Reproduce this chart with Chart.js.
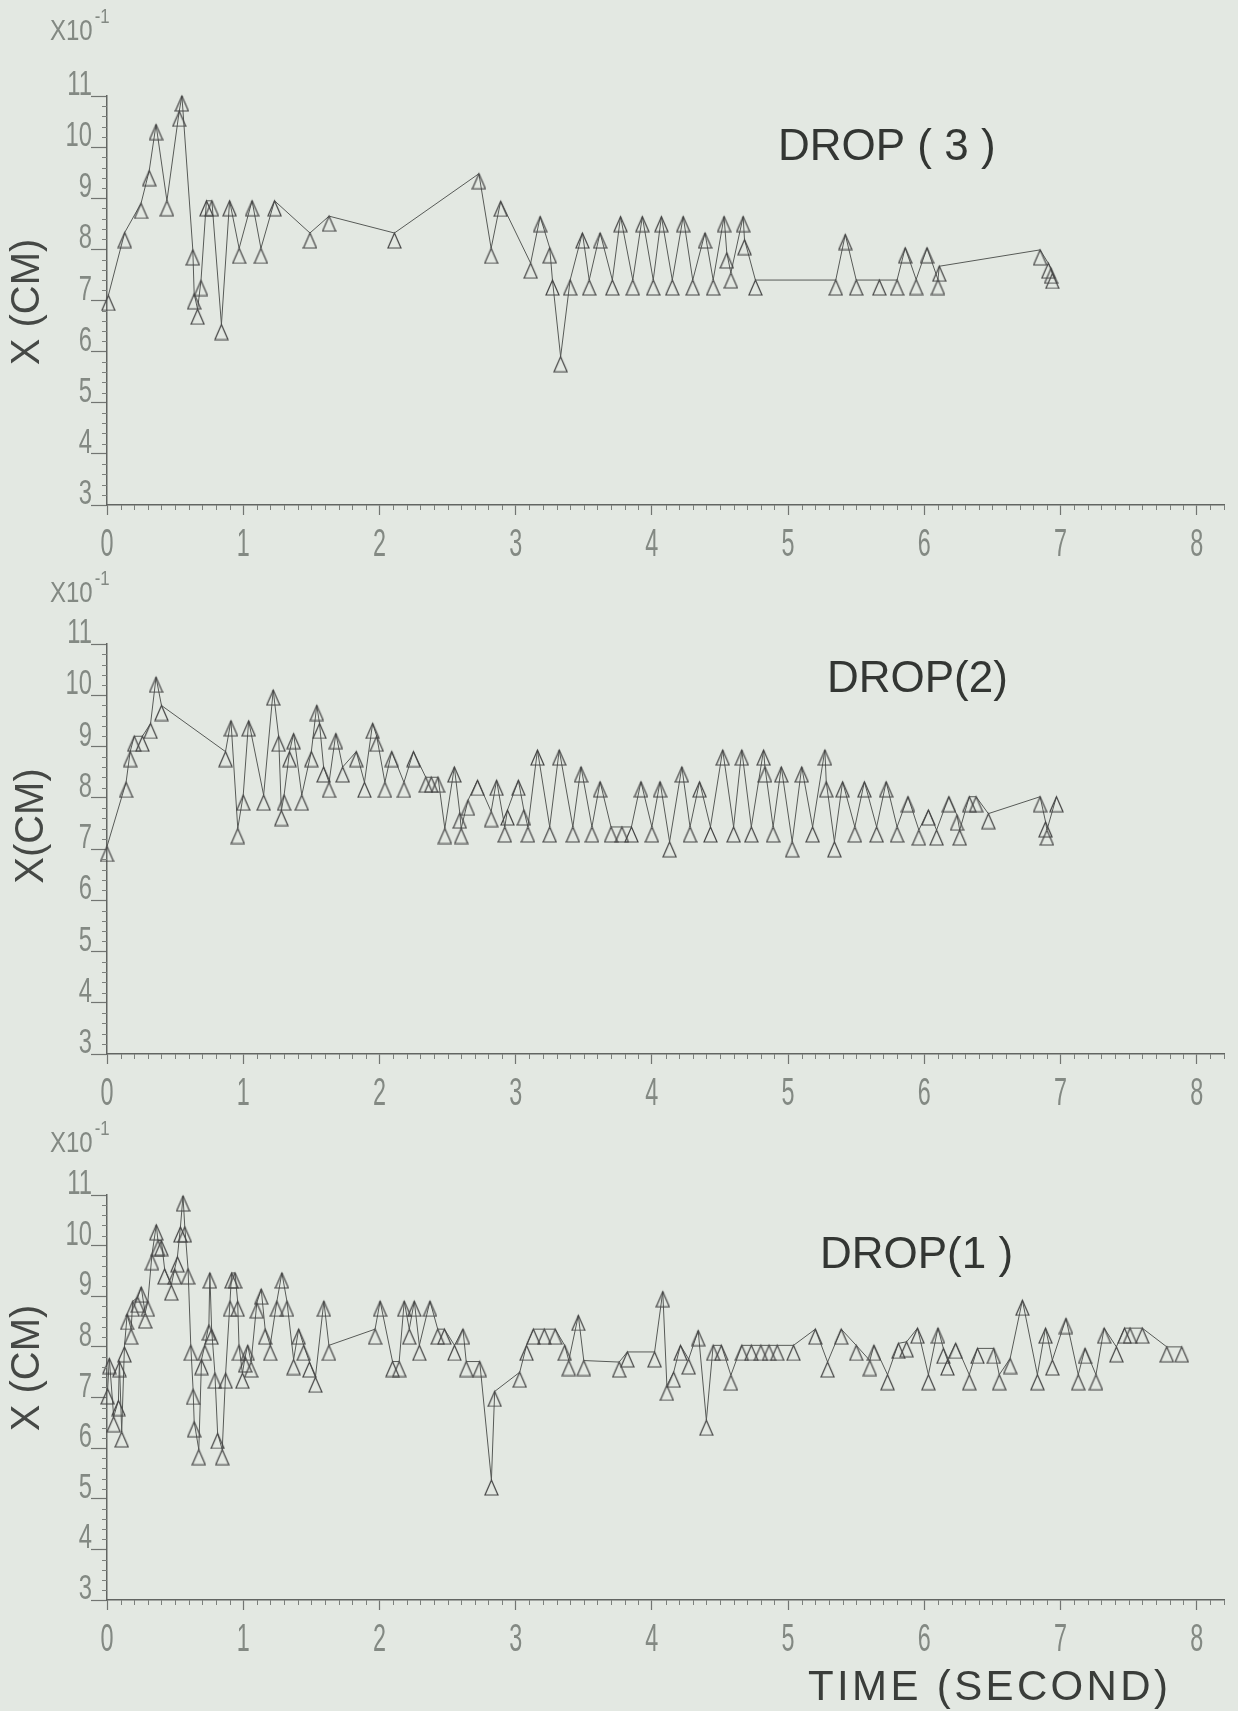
<!DOCTYPE html>
<html>
<head>
<meta charset="utf-8">
<script src="https://cdn.jsdelivr.net/npm/chart.js@4.4.1/dist/chart.umd.min.js"></script>
<style>
  html, body { margin: 0; padding: 0; background: #e3e8e2; }
  #page { position: relative; width: 1238px; height: 1711px; overflow: hidden; background: #e3e8e2; }
  canvas { position: absolute; left: 0; }
</style>
</head>
<body>
<div id="page">
  <canvas id="drop3" width="1238" height="560" style="top:0px"></canvas>
  <canvas id="drop2" width="1238" height="560" style="top:560px"></canvas>
  <canvas id="drop1" width="1238" height="591" style="top:1120px"></canvas>
</div>
<script>
// tiempo en segundos, X en unidades de 10^-1 cm
const xTickLabels = ['0', '1', '2', '3', '4', '5', '6', '7', '8'];
const yTickLabels = ['3', '4', '5', '6', '7', '8', '9', '10', '11'];

// DROP (3)
const time3 = [0.01, 0.13, 0.25, 0.31, 0.36, 0.44, 0.53, 0.55, 0.63, 0.64, 0.665, 0.69, 0.73, 0.77, 0.84, 0.90, 0.97, 1.065, 1.13, 1.23,
  1.49, 1.63, 2.11, 2.73, 2.82, 2.89, 3.11, 3.18, 3.25, 3.27, 3.33, 3.40, 3.49, 3.54, 3.62, 3.71, 3.77, 3.86, 3.93, 4.01,
  4.07, 4.15, 4.23, 4.30, 4.39, 4.45, 4.53, 4.55, 4.58, 4.67, 4.68, 4.76, 5.35, 5.42, 5.50, 5.67, 5.80, 5.86, 5.94, 6.02,
  6.10, 6.11, 6.85, 6.91, 6.93, 6.94];
const x3 = [7.1, 8.33, 8.9, 9.54, 10.44, 8.95, 10.7, 11.0, 7.99, 7.13, 6.83, 7.39, 8.95, 8.95, 6.53, 8.95, 8.02, 8.95, 8.02, 8.95,
  8.32, 8.65, 8.32, 9.48, 8.02, 8.94, 7.73, 8.64, 8.03, 7.40, 5.90, 7.40, 8.32, 7.40, 8.32, 7.40, 8.64, 7.40, 8.64, 7.40,
  8.64, 7.40, 8.64, 7.40, 8.32, 7.40, 8.64, 7.93, 7.54, 8.64, 8.19, 7.40, 7.40, 8.29, 7.40, 7.40, 7.40, 8.03, 7.41, 8.03,
  7.41, 7.67, 7.99, 7.73, 7.63, 7.53];

// DROP (2)
const time2 = [0.00, 0.14, 0.17, 0.20, 0.26, 0.32, 0.36, 0.40, 0.87, 0.91, 0.96, 1.00, 1.04, 1.15, 1.22, 1.26, 1.28, 1.30, 1.34, 1.37,
  1.43, 1.50, 1.54, 1.56, 1.59, 1.63, 1.68, 1.73, 1.83, 1.89, 1.95, 1.98, 2.04, 2.09, 2.18, 2.25, 2.34, 2.38, 2.43, 2.48,
  2.55, 2.59, 2.60, 2.65, 2.72, 2.82, 2.86, 2.92, 2.94, 3.02, 3.06, 3.09, 3.16, 3.25, 3.32, 3.42, 3.48, 3.56, 3.62, 3.70,
  3.78, 3.85, 3.92, 4.00, 4.06, 4.13, 4.22, 4.28, 4.35, 4.43, 4.52, 4.60, 4.66, 4.73, 4.82, 4.83, 4.89, 4.95, 5.03, 5.10,
  5.18, 5.27, 5.28, 5.34, 5.40, 5.49, 5.56, 5.65, 5.72, 5.80, 5.88, 5.96, 6.03, 6.09, 6.18, 6.24, 6.26, 6.33, 6.38, 6.47,
  6.85, 6.89, 6.90, 6.97];
const x2 = [7.05, 8.3, 8.9, 9.2, 9.2, 9.45, 10.35, 9.8, 8.9, 9.5, 7.4, 8.05, 9.5, 8.05, 10.1, 9.2, 7.75, 8.05, 8.9, 9.25,
  8.05, 8.9, 9.8, 9.45, 8.6, 8.3, 9.25, 8.6, 8.9, 8.3, 9.45, 9.2, 8.3, 8.9, 8.3, 8.9, 8.4, 8.4, 8.4, 7.4,
  8.6, 7.7, 7.4, 7.95, 8.34, 7.73, 8.34, 7.43, 7.76, 8.34, 7.76, 7.43, 8.93, 7.43, 8.93, 7.43, 8.60, 7.43, 8.31, 7.43,
  7.43, 7.43, 8.31, 7.43, 8.31, 7.14, 8.60, 7.43, 8.31, 7.43, 8.93, 7.43, 8.93, 7.43, 8.93, 8.60, 7.43, 8.60, 7.14, 8.60,
  7.43, 8.93, 8.31, 7.14, 8.31, 7.43, 8.31, 7.43, 8.31, 7.43, 8.02, 7.37, 7.76, 7.37, 8.02, 7.66, 7.37, 8.02, 8.02, 7.69,
  8.02, 7.53, 7.37, 8.02];

// DROP (1)
const time1 = [0.005, 0.017, 0.049, 0.084, 0.091, 0.108, 0.128, 0.148, 0.177, 0.189, 0.226, 0.251, 0.280, 0.300, 0.330, 0.362, 0.374, 0.399, 0.423, 0.472,
  0.497, 0.517, 0.539, 0.558, 0.571, 0.595, 0.615, 0.632, 0.640, 0.674, 0.694, 0.718, 0.748, 0.755, 0.768, 0.792, 0.812, 0.846, 0.871, 0.903,
  0.915, 0.940, 0.959, 0.969, 0.994, 1.014, 1.033, 1.058, 1.100, 1.132, 1.161, 1.198, 1.247, 1.284, 1.321, 1.370, 1.407, 1.444, 1.486, 1.530,
  1.592, 1.629, 1.968, 2.005, 2.096, 2.145, 2.182, 2.219, 2.256, 2.293, 2.371, 2.428, 2.477, 2.551, 2.613, 2.637, 2.736, 2.822, 2.846,
  3.03, 3.08, 3.13, 3.21, 3.29, 3.36, 3.39, 3.46, 3.50, 3.76, 3.82, 4.02, 4.08, 4.11, 4.16, 4.21, 4.27, 4.34, 4.40, 4.45,
  4.51, 4.58, 4.66, 4.73, 4.80, 4.86, 4.92, 5.04, 5.20, 5.29, 5.39, 5.50, 5.60, 5.63, 5.73, 5.81,
  5.87, 5.95, 6.03, 6.10, 6.14, 6.17, 6.23, 6.33, 6.39, 6.51, 6.55, 6.63, 6.72, 6.83, 6.89, 6.94, 7.04, 7.13, 7.18, 7.26,
  7.32, 7.41, 7.47, 7.51, 7.60, 7.78, 7.89];
const x1 = [7.17, 7.77, 6.62, 6.94, 7.71, 6.32, 8.0, 8.64, 8.35, 8.9, 8.98, 9.18, 8.67, 8.9, 9.82, 10.41, 10.1, 10.1, 9.54, 9.22,
  9.54, 9.78, 10.37, 10.98, 10.37, 9.54, 8.03, 7.16, 6.52, 5.97, 7.75, 8.03, 8.43, 9.46, 8.35, 7.48, 6.29, 5.97, 7.48, 8.9,
  9.46, 9.46, 8.9, 8.03, 7.48, 7.8, 8.03, 7.7, 8.87, 9.14, 8.35, 8.03, 8.9, 9.46, 8.9, 7.75, 8.35, 8.03, 7.7, 7.4,
  8.9, 8.03, 8.35, 8.9, 7.71, 7.71, 8.9, 8.35, 8.9, 8.03, 8.9, 8.35, 8.35, 8.03, 8.35, 7.71, 7.71, 5.37, 7.12,
  7.50, 8.03, 8.35, 8.35, 8.35, 8.03, 7.73, 8.62, 7.73, 7.70, 7.90, 7.90, 9.09, 7.24, 7.50, 8.03, 7.76, 8.32, 6.55, 8.03,
  8.03, 7.44, 8.03, 8.03, 8.03, 8.03, 8.03, 8.03, 8.35, 7.70, 8.35, 8.03, 7.73, 8.03, 7.45, 8.07,
  8.1, 8.37, 7.45, 8.37, 7.97, 7.74, 8.07, 7.45, 7.97, 7.97, 7.45, 7.77, 8.92, 7.45, 8.37, 7.74, 8.56, 7.45, 7.97, 7.45,
  8.37, 8.0, 8.37, 8.37, 8.37, 8.0, 8.0];

const textFont = "'Liberation Sans', 'DejaVu Sans', sans-serif";
const tickColor = '#838983';

// triangulo con el vertice en el punto
function marcaTriangulo(w, h) {
  const c = document.createElement('canvas');
  c.width = w + 2;
  c.height = 2 * h + 2;
  const g = c.getContext('2d');
  const cx = c.width / 2, cy = c.height / 2;
  g.strokeStyle = '#454545';
  g.lineWidth = 1.2;
  g.beginPath();
  g.moveTo(cx, cy);
  g.lineTo(cx + w / 2, cy + h);
  g.lineTo(cx - w / 2, cy + h);
  g.closePath();
  g.stroke();
  return c;
}
const triangulo = marcaTriangulo(13, 15);

// texto estrecho tipo plotter
function textoEstrecho(ctx, txt, x, y, escala, align) {
  ctx.save();
  ctx.translate(x, y);
  ctx.scale(escala, 1);
  ctx.textAlign = align;
  ctx.fillText(txt, 0, 0);
  const w = ctx.measureText(txt).width * escala;
  ctx.restore();
  return w;
}

const decorPlugin = {
  id: 'decor',
  afterDraw(chart, args, o) {
    const ctx = chart.ctx;
    const xs = chart.scales.x, ys = chart.scales.y;
    const top = o.top;
    ctx.save();
    // ticks menores
    ctx.strokeStyle = '#7c807c';
    ctx.lineWidth = 1;
    const yb = ys.getPixelForValue(3);
    for (let t = 1; t <= 82; t++) {
      if (t % 10 === 0) continue;
      const px = Math.round(xs.getPixelForValue(t / 10)) + 0.5;
      ctx.beginPath(); ctx.moveTo(px, yb); ctx.lineTo(px, yb + 5); ctx.stroke();
    }
    const xl = xs.getPixelForValue(0);
    for (let v = 15; v <= 55; v++) {
      if (v % 5 === 0) continue;
      const py = Math.round(ys.getPixelForValue(v / 5)) + 0.5;
      ctx.beginPath(); ctx.moveTo(xl - 5, py); ctx.lineTo(xl, py); ctx.stroke();
    }
    // etiquetas de los ejes
    ctx.fillStyle = tickColor;
    ctx.textBaseline = 'alphabetic';
    ctx.font = '39px ' + textFont;
    xs.ticks.forEach(tk => {
      const lbl = xTickLabels[tk.value];
      if (lbl === undefined) return;
      textoEstrecho(ctx, lbl, xs.getPixelForValue(tk.value), yb + 51, 0.6, 'center');
    });
    ctx.font = '35px ' + textFont;
    ys.ticks.forEach(tk => {
      const lbl = yTickLabels[tk.value - 3];
      if (lbl === undefined) return;
      textoEstrecho(ctx, lbl, xl - 15, ys.getPixelForValue(tk.value) - 1, 0.68, 'right');
    });
    // X10^-1
    ctx.font = '30px ' + textFont;
    const wExp = textoEstrecho(ctx, 'X10', o.expX, o.expY - top, 0.8, 'left');
    ctx.font = '21px ' + textFont;
    textoEstrecho(ctx, '-1', o.expX + wExp + 2, o.expY - top - 17, 0.8, 'left');
    // titulo del eje y
    ctx.fillStyle = '#454845';
    ctx.font = '40px ' + textFont;
    ctx.translate(o.yTitleX, o.yTitleY - top);
    ctx.rotate(-Math.PI / 2);
    ctx.textAlign = 'center';
    ctx.textBaseline = 'middle';
    ctx.fillText(o.yTitle, 0, 0);
    ctx.setTransform(1, 0, 0, 1, 0, 0);
    // DROP
    ctx.fillStyle = '#333633';
    ctx.font = '44px ' + textFont;
    ctx.textAlign = 'left';
    ctx.textBaseline = 'alphabetic';
    ctx.fillText(o.title, o.titleX, o.titleY - top);
    // TIME (SECOND)
    if (o.timeLabel) {
      ctx.font = '42px ' + textFont;
      ctx.fillStyle = '#3a3d3a';
      const w = ctx.measureText(o.timeLabel).width;
      const n = o.timeLabel.length;
      if (w < o.timeWidth) ctx.letterSpacing = ((o.timeWidth - w) / (n - 1)).toFixed(2) + 'px';
      ctx.fillText(o.timeLabel, o.timeX, o.timeY - top);
    }
    ctx.restore();
  }
};

function crearPanel(id, tiempos, valores, cfg) {
  const canvas = document.getElementById(id);
  const H = canvas.height;
  const datos = tiempos.map((t, i) => ({ x: t, y: valores[i] }));
  return new Chart(canvas.getContext('2d'), {
    type: 'line',
    data: {
      datasets: [{
        data: datos,
        borderColor: '#575a57',
        borderWidth: 1,
        tension: 0,
        fill: false,
        clip: false,
        pointStyle: triangulo,
        pointRadius: 3,
        pointHoverRadius: 3
      }]
    },
    options: {
      responsive: false,
      devicePixelRatio: 1,
      animation: false,
      events: [],
      layout: { padding: { top: cfg.y11 - cfg.top, right: 14, left: 0, bottom: 0 } },
      plugins: {
        legend: { display: false },
        tooltip: { enabled: false },
        decor: cfg
      },
      scales: {
        x: {
          type: 'linear',
          min: 0,
          max: 8.2,
          afterFit: s => { s.height = cfg.top + H - cfg.y3; },
          border: { display: true, color: '#626562', width: 1.5 },
          grid: { drawOnChartArea: false, drawTicks: true, tickLength: 10, color: '#727572', tickWidth: 1.2 },
          ticks: { stepSize: 1, includeBounds: false, display: false }
        },
        y: {
          type: 'linear',
          min: 3,
          max: 11,
          afterFit: s => { s.width = 107; },
          border: { display: true, color: '#626562', width: 1.5 },
          grid: { drawOnChartArea: false, drawTicks: true, tickLength: 16, color: '#727572', tickWidth: 1.2 },
          ticks: { stepSize: 1, display: false }
        }
      }
    },
    plugins: [decorPlugin]
  });
}

crearPanel('drop3', time3, x3, {
  top: 0, y11: 96, y3: 505,
  title: 'DROP ( 3 )', titleX: 778, titleY: 160,
  yTitle: 'X (CM)', yTitleX: 28, yTitleY: 302,
  expX: 50, expY: 40
});
crearPanel('drop2', time2, x2, {
  top: 560, y11: 644, y3: 1054,
  title: 'DROP(2)', titleX: 827, titleY: 692,
  yTitle: 'X(CM)', yTitleX: 32, yTitleY: 826,
  expX: 50, expY: 602
});
crearPanel('drop1', time1, x1, {
  top: 1120, y11: 1195, y3: 1600,
  title: 'DROP(1 )', titleX: 820, titleY: 1268,
  yTitle: 'X (CM)', yTitleX: 28, yTitleY: 1368,
  expX: 50, expY: 1152,
  timeLabel: 'TIME (SECOND)', timeX: 808, timeY: 1700, timeWidth: 360
});
</script>
</body>
</html>
